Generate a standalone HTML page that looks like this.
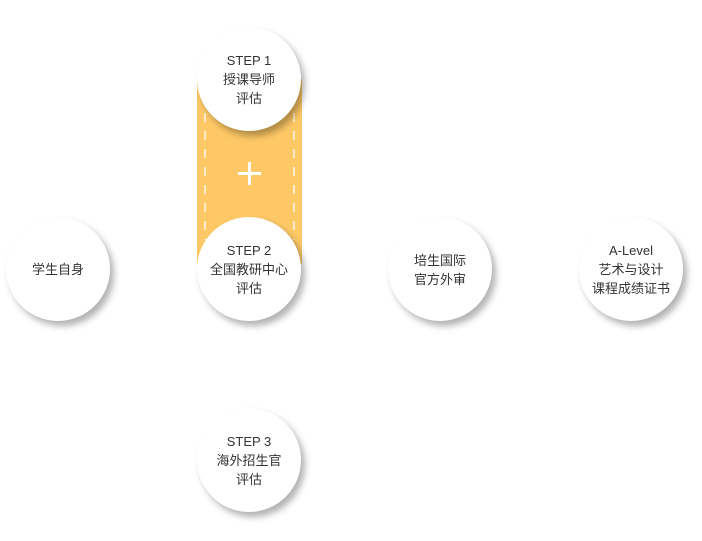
<!DOCTYPE html>
<html><head><meta charset="utf-8"><style>
body{margin:0;width:702px;height:541px;background:#fff;position:relative;overflow:hidden;font-family:"Liberation Sans","Noto Sans CJK SC",sans-serif;}
.c{position:absolute;width:104px;height:104px;border-radius:50%;background:#fff;box-shadow:4px 5px 7px rgba(0,0,0,0.3);display:flex;align-items:center;justify-content:center;text-align:center;font-size:13px;line-height:19px;color:#333;padding-top:1px;box-sizing:border-box;}
.y{position:absolute;left:197px;top:79px;width:105px;height:185px;background:#fdc865;}
.ph{position:absolute;left:238px;top:172px;width:23px;height:3px;background:#fff;}
.pv{position:absolute;left:248px;top:162px;width:3px;height:23px;background:#fff;}
</style></head><body>
<div class="y"></div>
<svg style="position:absolute;left:0;top:0" width="702" height="541"><g stroke="rgba(255,255,255,0.85)" stroke-width="1.5" stroke-dasharray="9 9"><line x1="205" y1="113" x2="205" y2="240"/><line x1="294" y1="113" x2="294" y2="240"/></g></svg>
<div class="ph"></div><div class="pv"></div>
<div class="c" style="left:6px;top:217px">学生自身</div>
<div class="c" style="left:197px;top:27px">STEP 1<br>授课导师<br>评估</div>
<div class="c" style="left:197px;top:217px">STEP 2<br>全国教研中心<br>评估</div>
<div class="c" style="left:197px;top:408px">STEP 3<br>海外招生官<br>评估</div>
<div class="c" style="left:388px;top:217px">培生国际<br>官方外审</div>
<div class="c" style="left:579px;top:217px">A-Level<br>艺术与设计<br>课程成绩证书</div>
</body></html>
